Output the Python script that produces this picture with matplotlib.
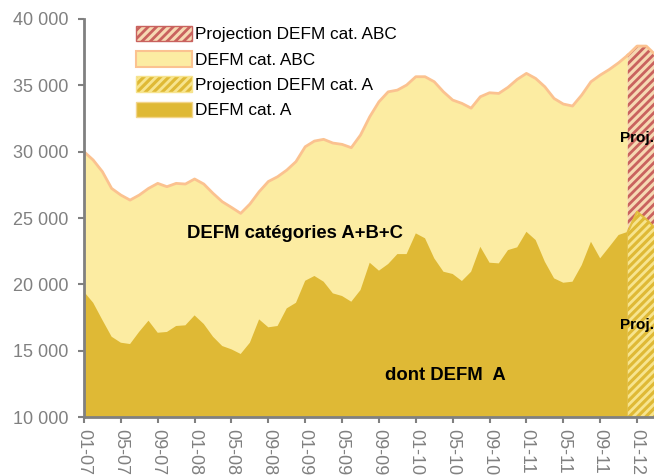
import numpy as np
import matplotlib
matplotlib.use('Agg')
import matplotlib.pyplot as plt
from matplotlib.patches import Patch
from matplotlib.ticker import FuncFormatter

plt.rcParams['font.family'] = ['Liberation Sans', 'DejaVu Sans']
plt.rcParams['hatch.linewidth'] = 2.0

# demandeurs d'emploi, mensuel de 01-07 a 12-11
defm_abc = [30000, 29370, 28490, 27230, 26730, 26350, 26730, 27230, 27610, 27360,
            27610, 27560, 27940, 27560, 26860, 26230, 25800, 25350, 26050, 26980,
            27750, 28110, 28610, 29250, 30370, 30800, 30930, 30650, 30550, 30300,
            31250, 32630, 33760, 34510, 34640, 35020, 35650, 35650, 35270, 34510,
            33890, 33640, 33280, 34140, 34440, 34390, 34850, 35450, 35900, 35520,
            34890, 34010, 33590, 33440, 34270, 35270, 35770, 36200, 36700, 37280]
defm_a = [19440, 18610, 17310, 16050, 15600, 15500, 16430, 17260, 16350, 16410,
          16860, 16910, 17660, 17010, 16050, 15350, 15100, 14750, 15600, 17360,
          16760, 16860, 18190, 18610, 20270, 20630, 20200, 19320, 19120, 18690,
          19570, 21630, 21030, 21530, 22280, 22280, 23840, 23470, 21960, 20950,
          20780, 20250, 20950, 22830, 21630, 21580, 22580, 22790, 23960, 23340,
          21700, 20450, 20120, 20200, 21450, 23210, 21960, 22830, 23720, 23960]
# projections (a partir de 12-11)
proj_abc = [37280, 37960, 37960, 37300]
proj_a = [23960, 25470, 24900, 24200]

tick_labels = ['01-07', '05-07', '09-07', '01-08', '05-08', '09-08', '01-09', '05-09',
               '09-09', '01-10', '05-10', '09-10', '01-11', '05-11', '09-11', '01-12']

x = np.arange(len(defm_abc))
xp = np.arange(len(defm_abc) - 1, len(defm_abc) - 1 + len(proj_abc))

c_abc = '#FCECA2'
c_abc_edge = '#FBC290'
c_a = '#DFB935'
c_red = '#C9625E'
c_proj_bg = '#F6D8B2'
c_hatch_a = '#F7E48E'

fig = plt.figure(figsize=(6.54, 4.75), dpi=100)
ax = fig.add_axes([0.1284, 0.1221, 0.8716, 0.8379])

base = 10000
ax.fill_between(x, base, defm_abc, facecolor=c_abc, edgecolor='none', zorder=1)
ax.plot(x, defm_abc, color=c_abc_edge, lw=2, zorder=3)
ax.fill_between(xp, base, proj_abc, facecolor=c_proj_bg, edgecolor=c_red,
                hatch='////', linewidth=0, zorder=1)
ax.plot(xp, proj_abc, color=c_abc_edge, lw=2, zorder=3)
ax.fill_between(x, base, defm_a, facecolor=c_a, edgecolor='none', zorder=2)
ax.fill_between(xp, base, proj_a, facecolor=c_a, edgecolor=c_hatch_a,
                hatch='////', linewidth=0, zorder=2)
ax.plot(xp, proj_a, color='#E3BE3E', lw=1.5, zorder=3)

ax.set_xlim(0, 61.84)
ax.set_ylim(10000, 40000)
ax.set_yticks(np.arange(10000, 40001, 5000))
ax.yaxis.set_major_formatter(FuncFormatter(lambda v, p: '{:,.0f}'.format(v).replace(',', ' ')))
ax.set_xticks(np.arange(0, 61, 4))
ax.set_xticklabels(tick_labels, rotation=270)

for s in ['top', 'right']:
    ax.spines[s].set_visible(False)
for s in ['left', 'bottom']:
    ax.spines[s].set_color('#808080')
    ax.spines[s].set_linewidth(2)
    ax.spines[s].set_zorder(5)
ax.tick_params(colors='#808080', labelcolor='#808080', labelsize=13, width=1.5, length=4.5)
ax.tick_params(axis='y', pad=7)
ax.tick_params(axis='x', pad=4)

ax.text(22.9, 23800, 'DEFM catégories A+B+C', fontsize=13.3, fontweight='bold',
        ha='center', va='center', zorder=6)
ax.text(39.2, 13100, 'dont DEFM  A', fontsize=13.3, fontweight='bold',
        ha='center', va='center', zorder=6)
ax.text(58.15, 31000, 'Proj.', fontsize=11, fontweight='bold', ha='left', va='center', zorder=6)
ax.text(58.15, 16900, 'Proj.', fontsize=11, fontweight='bold', ha='left', va='center', zorder=6)

handles = [Patch(facecolor=c_proj_bg, edgecolor=c_red, hatch='////', lw=1),
           Patch(facecolor=c_abc, edgecolor=c_abc_edge, lw=1.5),
           Patch(facecolor=c_a, edgecolor=c_hatch_a, hatch='////', lw=1),
           Patch(facecolor=c_a, edgecolor='#F3D58A', lw=1)]
labels = ['Projection DEFM cat. ABC', 'DEFM cat. ABC', 'Projection DEFM cat. A', 'DEFM cat. A']
ax.legend(handles, labels, loc='upper left', bbox_to_anchor=(0.0785, 1.0), frameon=False,
          fontsize=12.4, handlelength=3.3, handleheight=1.0, handletextpad=0.15,
          labelspacing=0.5, borderaxespad=0)

fig.savefig('out.png', dpi=100)
